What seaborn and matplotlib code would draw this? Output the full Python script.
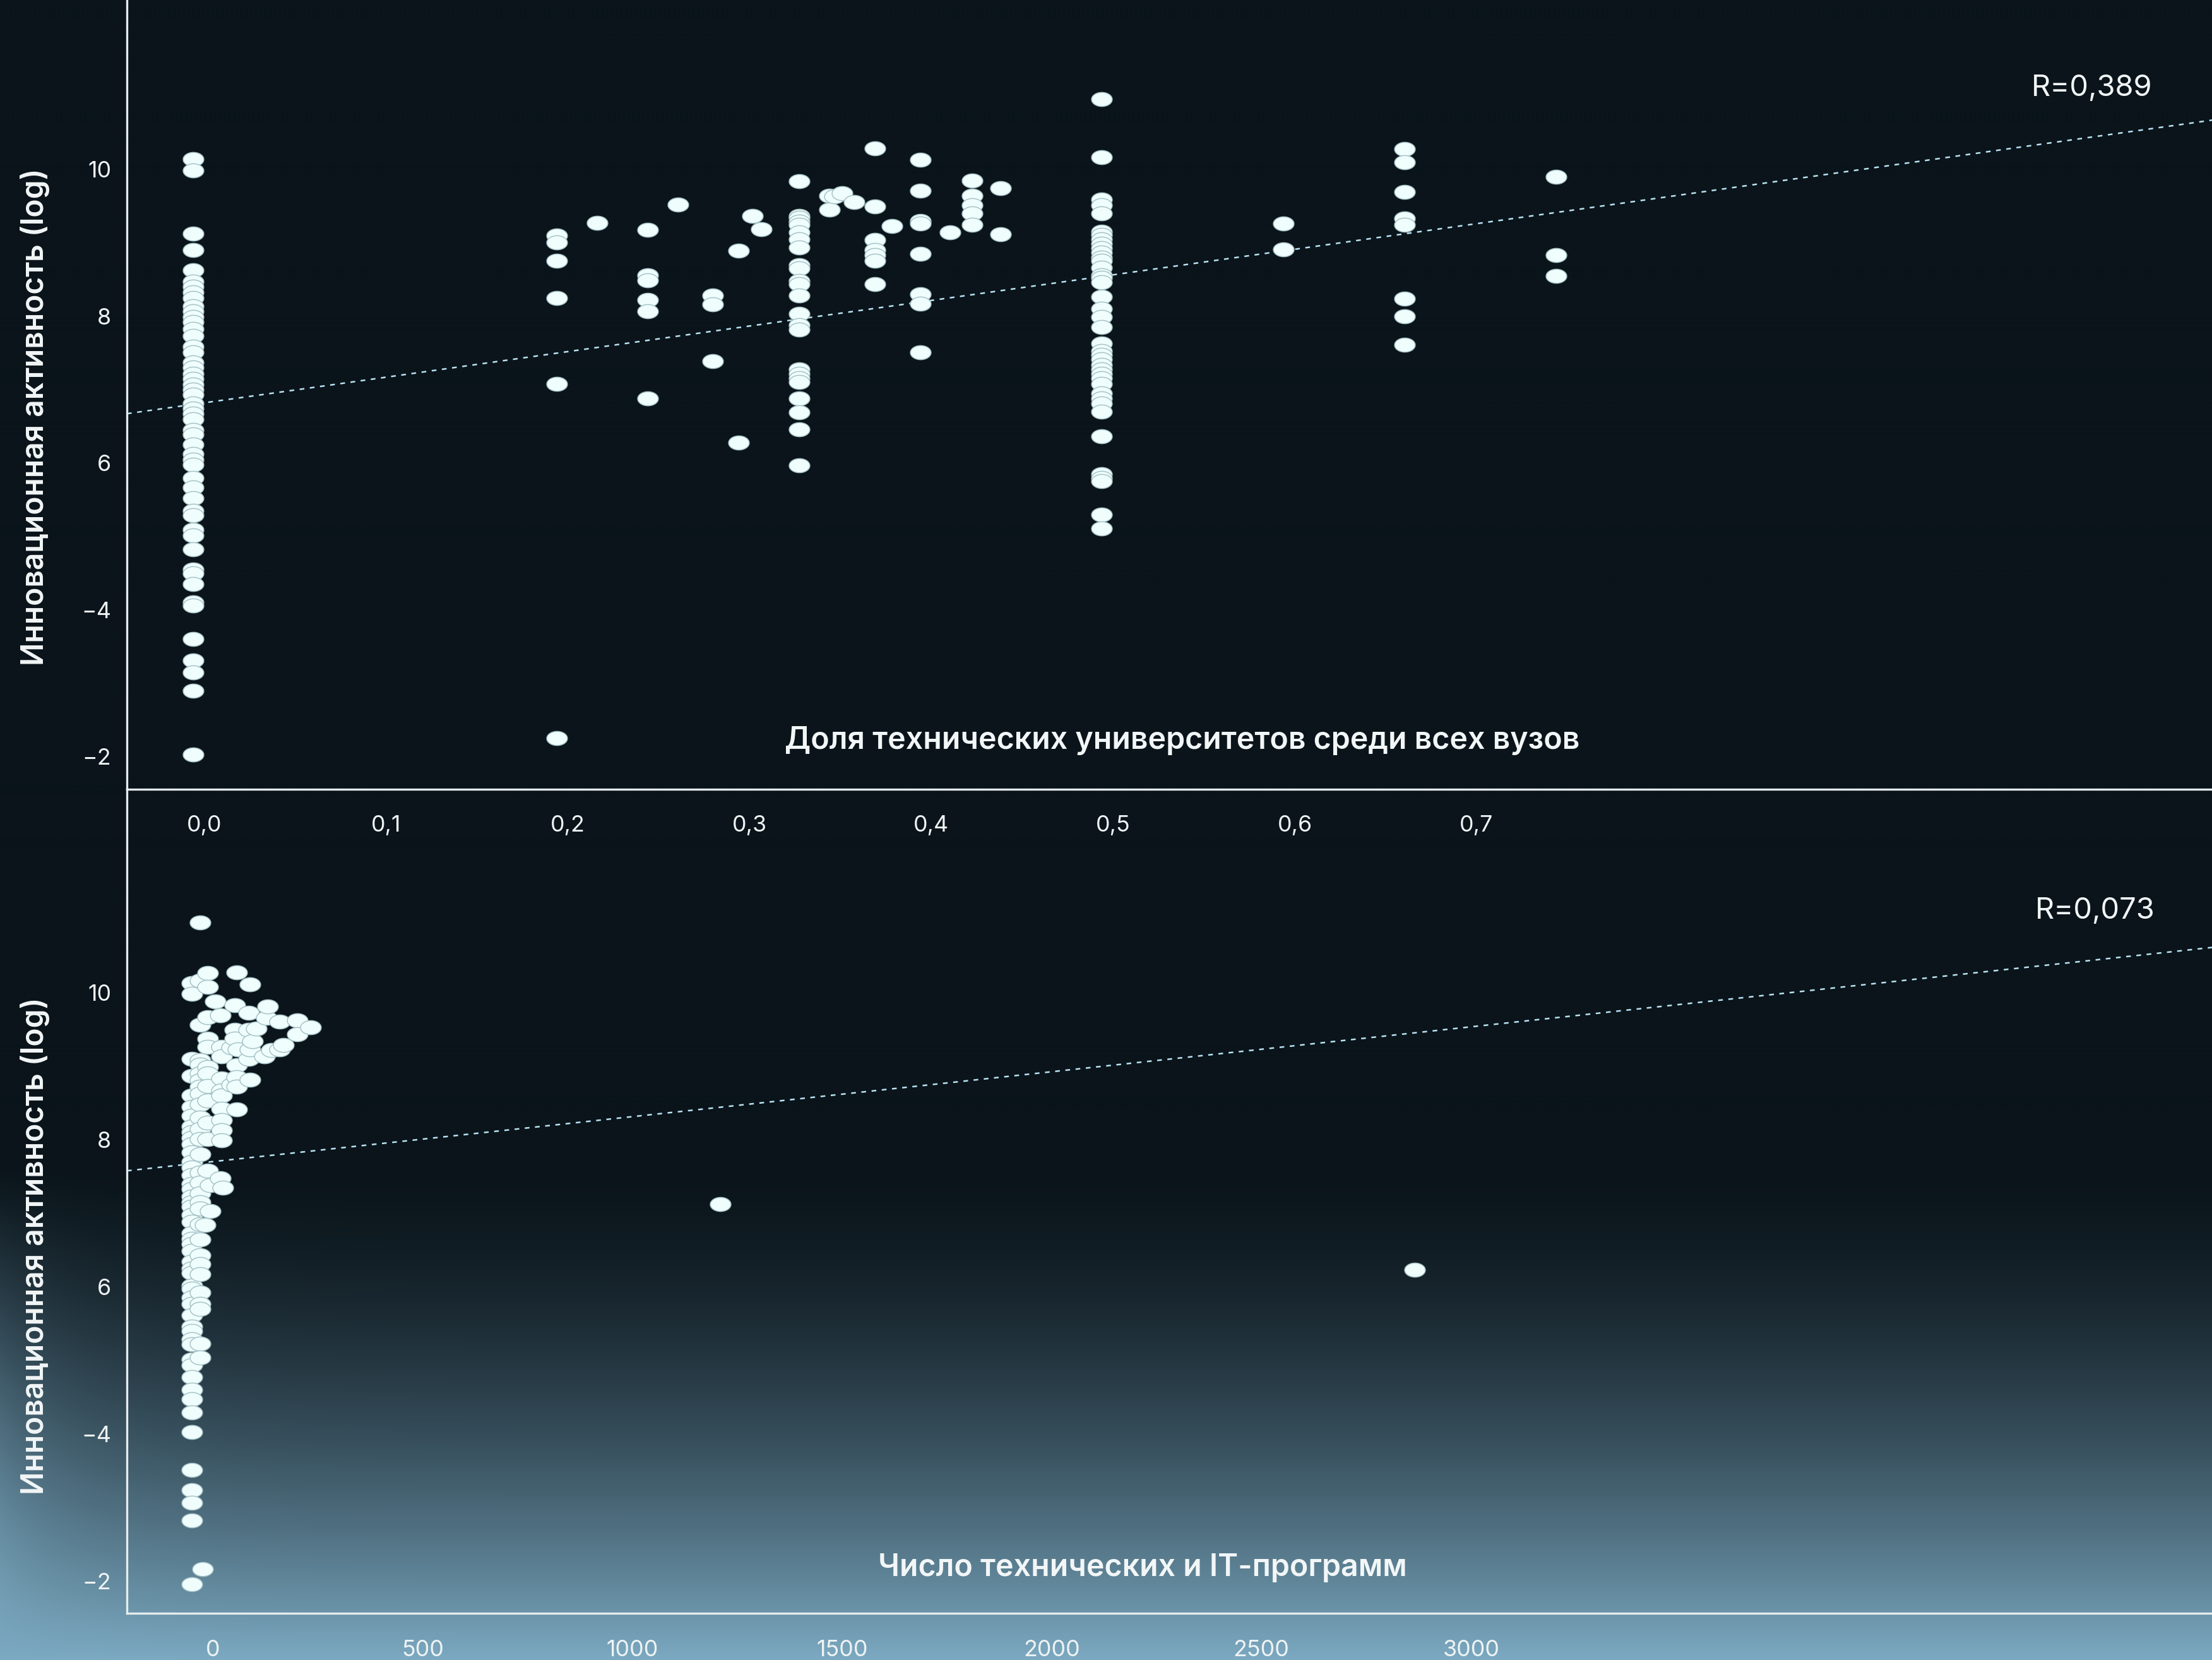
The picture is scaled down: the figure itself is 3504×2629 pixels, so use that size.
import numpy as np
import pandas as pd
import seaborn as sns
import matplotlib.pyplot as plt
import matplotlib.transforms as mtransforms
from matplotlib.path import Path

sns.set_theme(style="white")
plt.rcParams['font.family'] = ['Inter', 'DejaVu Sans']

# --- data ---
share_values = [0.0, 1/5, 2/9, 1/4, 4/15, 2/7, 3/10, 4/13, 5/16, 1/3, 0.35, 6/17, 5/14, 4/11,
                3/8, 5/13, 0.4, 5/12, 3/7, 4/9, 0.5, 0.6, 2/3, 0.75]
innov_by_share = [
    [10.14, 9.99, 9.13, 8.90, 8.63, 8.47, 8.40, 8.33, 8.25, 8.14, 8.07, 7.99, 7.92, 7.83, 7.73,
     7.59, 7.51, 7.37, 7.30, 7.22, 7.15, 7.07, 7.00, 6.93, 6.81, 6.74, 6.67, 6.60, 6.45, 6.39,
     6.25, 6.12, 6.05, 5.98, 5.80, 5.67, 5.52, 5.35, 5.29, 5.09, 5.01, 4.82, 4.55, 4.50, 4.35,
     4.10, 4.06, 3.60, 3.31, 3.15, 2.90, 2.03],
    [9.10, 9.01, 8.76, 8.25, 7.08, 2.25],
    [9.27],
    [9.18, 8.56, 8.49, 8.22, 8.07, 6.88],
    [9.52],
    [8.28, 8.16, 7.39],
    [8.89, 6.28],
    [9.37],
    [9.19],
    [9.84, 9.37, 9.34, 9.29, 9.25, 9.14, 9.05, 8.94, 8.70, 8.65, 8.48, 8.44, 8.28, 8.03, 7.88,
     7.82, 7.28, 7.22, 7.16, 7.10, 6.88, 6.69, 6.46, 5.97],
    [9.64, 9.45],
    [9.63],
    [9.68],
    [9.56],
    [10.29, 9.50, 9.04, 8.90, 8.83, 8.76, 8.44],
    [9.23],
    [10.13, 9.71, 9.30, 9.26, 8.85, 8.30, 8.17, 7.51],
    [9.14],
    [9.85, 9.64, 9.51, 9.40, 9.25],
    [9.75, 9.12],
    [10.96, 10.17, 9.59, 9.51, 9.40, 9.15, 9.11, 9.05, 8.99, 8.93, 8.87, 8.80, 8.76, 8.66, 8.56,
     8.52, 8.46, 8.27, 8.10, 7.99, 7.85, 7.63, 7.53, 7.47, 7.41, 7.34, 7.28, 7.22, 7.16, 7.08,
     6.95, 6.88, 6.81, 6.70, 6.36, 5.85, 5.80, 5.75, 5.30, 5.11],
    [9.26, 8.91],
    [10.28, 10.10, 9.69, 9.33, 9.25, 8.24, 8.00, 7.61],
    [9.90, 8.83, 8.55],
]

program_values = [0, 19, 25, 31, 37, 44, 55, 68, 71, 74, 94, 102, 106, 109, 135, 139, 145,
                  153, 173, 178, 181, 189, 209, 218, 251, 283, 1260, 2915]
innov_by_programs = [
    [10.13, 9.98, 9.10, 8.87, 8.60, 8.45, 8.33, 8.18, 8.10, 8.03, 7.94, 7.83, 7.70, 7.62, 7.52,
     7.40, 7.33, 7.23, 7.15, 7.09, 6.98, 6.88, 6.73, 6.65, 6.58, 6.49, 6.34, 6.25, 6.19, 6.02,
     5.97, 5.85, 5.77, 5.61, 5.46, 5.40, 5.29, 5.22, 5.01, 4.93, 4.77, 4.60, 4.47, 4.29, 4.02,
     3.51, 3.23, 3.06, 2.82, 1.95],
    [10.95, 10.16, 9.56, 9.08, 9.02, 8.90, 8.81, 8.72, 8.63, 8.48, 8.30, 8.15, 8.01, 7.80, 7.55,
     7.42, 7.27, 7.15, 7.06, 6.85, 6.64, 6.43, 6.31, 6.17, 5.92, 5.77, 5.70, 5.23, 5.04],
    [2.16],
    [6.84],
    [10.27, 10.08, 9.67, 9.37, 9.26, 8.99, 8.90, 8.73, 8.53, 8.23, 8.01, 7.58],
    [7.38, 7.03],
    [9.88],
    [9.69, 7.48],
    [9.26, 9.13, 8.83, 8.67, 8.60, 8.42, 8.27, 8.13, 7.99],
    [7.35],
    [9.25, 8.75],
    [9.83, 9.49, 9.37],
    [10.28, 9.01, 8.85, 8.72, 8.41],
    [9.23],
    [9.73, 9.49, 9.10],
    [10.11, 9.23, 8.82],
    [9.34],
    [9.51],
    [9.13],
    [9.66],
    [9.81],
    [9.22],
    [9.61, 9.23],
    [9.29],
    [9.62, 9.43],
    [9.53],
    [7.12],
    [6.23],
]

# regression lines (intercept, slope) and correlation labels
fit_share = (6.80, 3.486)
fit_programs = (7.672, 0.000611)
r_labels = ["R=0,389", "R=0,073"]

y_ticks = [10, 8, 6, 4, 2]
y_tick_labels = ["10", "8", "6", "\u22124", "\u22122"]
share_ticks = [0.0, 0.1, 0.2, 0.3, 0.4, 0.5, 0.6, 0.7]
share_tick_labels = ["0,0", "0,1", "0,2", "0,3", "0,4", "0,5", "0,6", "0,7"]
program_ticks = [0, 500, 1000, 1500, 2000, 2500, 3000]

ylabel = "Инновационная активность (log)"
xlabels = ["Доля технических университетов среди всех вузов", "Число технических и IT-программ"]

df_share = pd.DataFrame([(x, y) for x, ys in zip(share_values, innov_by_share) for y in ys],
                        columns=["share", "innov"])
df_prog = pd.DataFrame([(x, y) for x, ys in zip(program_values, innov_by_programs) for y in ys],
                       columns=["programs", "innov"])

# --- figure ---
W, H = 3504, 2629
fig = plt.figure(figsize=(W / 300, H / 300), dpi=300, facecolor="#0a141a")

# background gradient
yy, xx = np.mgrid[0:H:2, 0:W:2]
dark = np.array([10, 20, 26]) / 255
light = np.array([124, 170, 194]) / 255
t = np.clip((yy / H - 0.70) / 0.30, 0, 1) ** 1.6
glow = np.clip((yy - 1850) / 700, 0, 1) * np.exp(-xx / 120.0) * 0.6
mix = np.clip(t + glow * (1 - t), 0, 1)
rgb = dark[None, None, :] * (1 - mix[..., None]) + light[None, None, :] * mix[..., None]
bg = fig.add_axes([0, 0, 1, 1], zorder=-10)
bg.imshow(rgb, aspect="auto", extent=[0, 1, 0, 1], origin="upper", interpolation="bilinear")
bg.axis("off")

# ellipse marker
theta = np.linspace(0, 2 * np.pi, 60)
ellipse = Path(np.column_stack([np.cos(theta), 0.68 * np.sin(theta)]), closed=True)

left, width = 0.0574, 0.9426
ax1 = fig.add_axes([left, 0.5247, width, 0.4753])
ax2 = fig.add_axes([left, 0.0281, width, 0.4966])

panels = [
    (ax1, df_share, "share", fit_share, (-0.0365, 1.111), (1.558, 12.31), share_ticks,
     share_tick_labels, (0.506, 0.061), 0.472, (0.9425, 0.888), 4.3),
    (ax2, df_prog, "programs", fit_programs, (-155, 4817), (1.558, 12.77), program_ticks,
     [str(v) for v in program_ticks], (0.487, 0.055), 0.446, (0.944, 0.852), 8.0),
]

for i, (ax, df, xcol, fit, xlim, ylim, xt, xtl, xl_pos, yl_y, r_pos, shift) in enumerate(panels):
    ax.set_facecolor("none")
    sns.scatterplot(data=df, x=xcol, y="innov", ax=ax, marker=ellipse, s=62,
                    color="#effdfd", edgecolor="#a7c2c6", linewidth=0.35, zorder=3)
    ax.axline((0, fit[0]), slope=fit[1], color="#b9e2f2", lw=0.6,
              linestyle=(0, (3, 3.5)), zorder=2)
    ax.set_xlim(*xlim)
    ax.set_ylim(*ylim)
    ax.set_yticks(y_ticks)
    ax.set_yticklabels(y_tick_labels)
    ax.set_xticks(xt)
    ax.set_xticklabels(xtl)
    ax.tick_params(axis="both", length=0, labelsize=8.6, colors="#eef3f4")
    ax.tick_params(axis="x", pad=10)
    ax.tick_params(axis="y", pad=6)
    # nudge x tick labels to where the reference prints them
    offset = mtransforms.ScaledTranslation(shift / 72, 0, fig.dpi_scale_trans)
    for lab in ax.get_xticklabels():
        lab.set_transform(lab.get_transform() + offset)
    for s in ["top", "right"]:
        ax.spines[s].set_visible(False)
    for s in ["left", "bottom"]:
        ax.spines[s].set_color("#e6ecee")
        ax.spines[s].set_linewidth(0.8)
    ax.grid(False)

    ax.set_ylabel(ylabel, fontsize=11.5, fontweight="semibold", color="#f2f6f7", va="center")
    ax.yaxis.set_label_coords(-0.044, yl_y)
    ax.set_xlabel(xlabels[i], fontsize=11.6, fontweight="semibold", color="#f2f6f7", va="center")
    ax.xaxis.set_label_coords(*xl_pos)
    ax.text(r_pos[0], r_pos[1], r_labels[i], transform=ax.transAxes, ha="center", va="center",
            fontsize=11.3, color="#f2f6f7")
    if ax.get_legend() is not None:
        ax.get_legend().remove()

plt.savefig("out.png", dpi=300, facecolor=fig.get_facecolor())
